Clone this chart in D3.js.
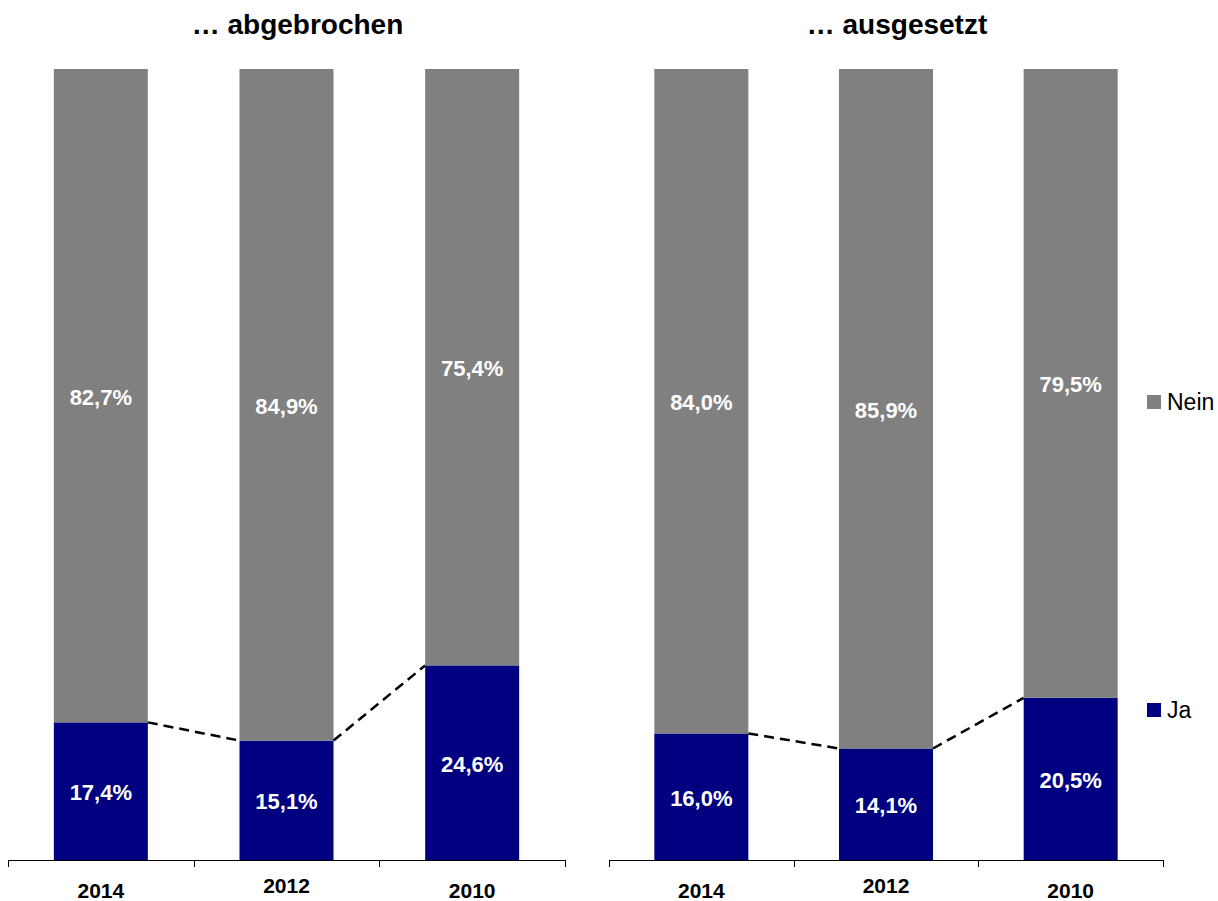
<!DOCTYPE html>
<html><head><meta charset="utf-8">
<script src="https://cdn.jsdelivr.net/npm/d3@7"></script>
<style>body{margin:0;background:#fff}svg{display:block;font-family:"Liberation Sans",Arial,sans-serif}</style>
</head><body><svg id="c" width="1218" height="901"></svg>
<script>
const years = ["2014", "2012", "2010"];
const panelTitles = ["… abgebrochen", "… ausgesetzt"];
const jaAbgebrochen = [17.4, 15.1, 24.6];
const neinAbgebrochen = [82.7, 84.9, 75.4];
const jaAusgesetzt = [16.0, 14.1, 20.5];
const neinAusgesetzt = [84.0, 85.9, 79.5];
const seriesNames = ["Nein", "Ja"];
const colors = {Nein: "#808080", Ja: "#000080"};

const panels = [
  {title: panelTitles[0], ja: jaAbgebrochen, nein: neinAbgebrochen, x0: 8, x1: 565},
  {title: panelTitles[1], ja: jaAusgesetzt, nein: neinAusgesetzt, x0: 609, x1: 1163}
];
const fmt = v => v.toFixed(1).replace(".", ",") + "%";
const svg = d3.select("#c");
const y = d3.scaleLinear().domain([0, 100]).range([860, 69]);

panels.forEach(p => {
  const x = d3.scaleBand().domain(years).range([p.x0, p.x1]).paddingInner(0).paddingOuter(0);
  const bw = 94;
  const g = svg.append("g");
  const bx = d => x(d) + (x.bandwidth() - bw) / 2;
  // title
  g.append("text").attr("x", (p.x0 + p.x1) / 2 + 11).attr("y", 34)
    .attr("text-anchor", "middle").attr("font-size", 28).attr("font-weight", "bold")
    .text(p.title);
  // ja bars
  g.selectAll(".ja").data(years).join("rect")
    .attr("x", d => bx(d)).attr("width", bw)
    .attr("y", (d, i) => y(p.ja[i])).attr("height", (d, i) => y(0) - y(p.ja[i]))
    .attr("fill", colors.Ja);
  // nein bars
  g.selectAll(".nein").data(years).join("rect")
    .attr("x", d => bx(d)).attr("width", bw)
    .attr("y", (d, i) => y(Math.min(100, p.ja[i] + p.nein[i])))
    .attr("height", (d, i) => y(p.ja[i]) - y(Math.min(100, p.ja[i] + p.nein[i])))
    .attr("fill", colors.Nein);
  // dashed connectors
  for (let i = 0; i < years.length - 1; i++) {
    g.append("line")
      .attr("x1", bx(years[i]) + bw).attr("y1", y(p.ja[i]))
      .attr("x2", bx(years[i + 1])).attr("y2", y(p.ja[i + 1]))
      .attr("stroke", "#000").attr("stroke-width", 2.5).attr("stroke-dasharray", "10,6");
  }
  // labels
  g.selectAll(".lj").data(years).join("text")
    .attr("x", d => bx(d) + bw / 2)
    .attr("y", (d, i) => (y(0) + y(p.ja[i])) / 2 + 9)
    .attr("text-anchor", "middle").attr("fill", "#fff").attr("font-size", 22).attr("font-weight", "bold")
    .text((d, i) => fmt(p.ja[i]));
  g.selectAll(".ln").data(years).join("text")
    .attr("x", d => bx(d) + bw / 2)
    .attr("y", (d, i) => (y(p.ja[i]) + y(100)) / 2 + 9)
    .attr("text-anchor", "middle").attr("fill", "#fff").attr("font-size", 22).attr("font-weight", "bold")
    .text((d, i) => fmt(p.nein[i]));
  // axis
  g.append("line").attr("x1", p.x0).attr("x2", p.x1).attr("y1", 860.5).attr("y2", 860.5)
    .attr("stroke", "#000").attr("stroke-width", 1);
  const ticks = years.map(d => x(d)).concat([p.x1]);
  g.selectAll(".tk").data(ticks).join("line")
    .attr("x1", d => Math.round(d) + 0.5).attr("x2", d => Math.round(d) + 0.5)
    .attr("y1", 860).attr("y2", 867).attr("stroke", "#000").attr("stroke-width", 1);
  g.selectAll(".yl").data(years).join("text")
    .attr("x", d => x(d) + x.bandwidth() / 2)
    .attr("y", (d, i) => i === 1 ? 893 : 898)
    .attr("text-anchor", "middle").attr("font-size", 21).attr("font-weight", "bold")
    .text(d => d);
});

// legend
const leg = svg.append("g");
const legY = {Nein: 402, Ja: 710};
seriesNames.forEach(n => {
  leg.append("rect").attr("x", 1147).attr("y", legY[n] - 7).attr("width", 14).attr("height", 14).attr("fill", colors[n]);
  leg.append("text").attr("x", 1167).attr("y", legY[n] + 8).attr("font-size", 23).text(n);
});
</script></body></html>
